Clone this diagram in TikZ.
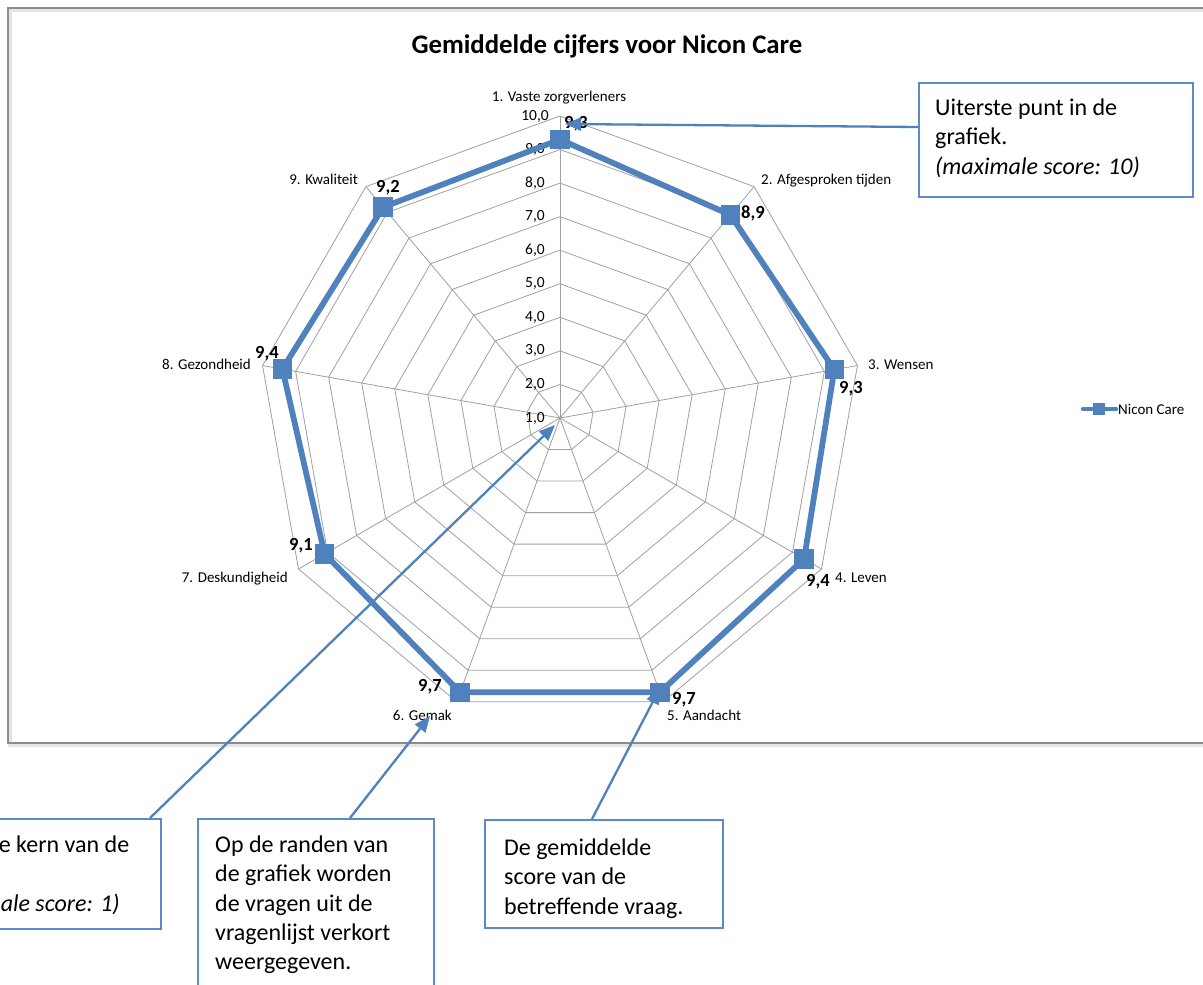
\documentclass[tikz,border=0pt]{standalone}
\usepackage{fontspec}
\setmainfont{Carlito}
\usetikzlibrary{arrows.meta,calc}
\definecolor{serie}{HTML}{4F81BD}
\definecolor{gridc}{RGB}{160,160,160}
\definecolor{boxc}{HTML}{5B8AC6}
\definecolor{framec}{RGB}{140,140,140}
\begin{document}
\begin{tikzpicture}[x=1pt,y=-1pt,
  gridl/.style={draw=gridc, line width=0.8pt, line join=miter},
  serieline/.style={draw=serie, line width=5.8pt, line join=round},
  marker/.style={fill=serie, inner sep=0pt, minimum size=19.5pt, draw=none},
  lmarker/.style={fill=serie, inner sep=0pt, minimum width=12pt, minimum height=12pt, draw=none},
  ticklab/.style={font=\fontsize{15.5}{17}\selectfont, inner sep=0pt, anchor=center},
  axlab/.style={font=\fontsize{15}{17}\selectfont, inner sep=0pt},
  datalab/.style={font=\bfseries\fontsize{18.5}{20}\selectfont, inner sep=0pt, anchor=base west},
  titlestyle/.style={font=\bfseries\fontsize{26.8}{30}\selectfont, inner sep=0pt, anchor=base},
  callbox/.style={draw=boxc, line width=1.5pt, fill=white, inner sep=0pt, anchor=north west},
  calltext/.style={font=\fontsize{24}{29.4}\selectfont, inner sep=0pt, align=left, anchor=north west},
  callarrow/.style={draw=serie, line width=2.3pt, -{Triangle[length=16pt,width=13pt]}},
  framebox/.style={draw=framec, line width=1.2pt}
]
\useasboundingbox (0,0) rectangle (1203,985);
\clip (0,0) rectangle (1203,985);

% chart frame with soft shadow
\draw[draw=black!10, line width=3.5pt] (10,10) rectangle (1216,745);
\draw[framebox] (8,8) rectangle (1215,743);

% title
\node[titlestyle] (title) at (607,53) {Gemiddelde cijfers voor Nicon Care};

% radar grid
\coordinate (O) at (560,418);
\foreach \k in {2,...,10}{
  \pgfmathsetmacro{\r}{(\k-1)*302/9}
  \draw[gridl] ({560+\r*cos(90)},{418-\r*sin(90)})
    \foreach \i in {1,...,8}{ -- ({560+\r*cos(90-40*\i)},{418-\r*sin(90-40*\i)}) } -- cycle;
}
\foreach \i in {0,...,8}{
  \coordinate (s\i) at ({560+302*cos(90-40*\i)},{418-302*sin(90-40*\i)});
  \draw[gridl] (O) -- (s\i);
}

% tick labels
\foreach \k in {1,...,10}{
  \node[ticklab] (t\k) at (535,{418-(\k-1)*302/9}) {\k,0};
}

% axis labels
\node[axlab, anchor=base] (l1) at (559,101) {1. Vaste zorgverleners};
\node[axlab, anchor=base west] (l2) at (761,184) {2. Afgesproken tijden};
\node[axlab, anchor=base west] (l3) at (868,369) {3. Wensen};
\node[axlab, anchor=base west] (l4) at (835,582) {4. Leven};
\node[axlab, anchor=base west] (l5) at (667,720) {5. Aandacht};
\node[axlab, anchor=base east] (l6) at (452,720) {6. Gemak};
\node[axlab, anchor=base east] (l7) at (288,582) {7. Deskundigheid};
\node[axlab, anchor=base east] (l8) at (251,369) {8. Gezondheid};
\node[axlab, anchor=base east] (l9) at (358,184) {9. Kwaliteit};

% series
\foreach \v [count=\i from 0] in {9.3,8.9,9.3,9.4,9.7,9.7,9.1,9.4,9.2}{
  \coordinate (p\i) at ({560+(\v-1)*302/9*cos(90-40*\i)},{418-(\v-1)*302/9*sin(90-40*\i)});
}
\draw[serieline] (p0) -- (p1) -- (p2) -- (p3) -- (p4) -- (p5) -- (p6) -- (p7) -- (p8) -- cycle;
\foreach \i in {0,...,8}{
  \node[marker] (m\i) at (p\i) {};
}

% data labels
\node[datalab] (d1) at (564,128) {9,3};
\node[datalab] (d2) at (741,218) {8,9};
\node[datalab] (d3) at (839,393) {9,3};
\node[datalab] (d4) at (806,586) {9,4};
\node[datalab] (d5) at (672,704) {9,7};
\node[datalab] (d6) at (418,691) {9,7};
\node[datalab] (d7) at (289,550) {9,1};
\node[datalab] (d8) at (255,358) {9,4};
\node[datalab] (d9) at (376,192) {9,2};

% legend
\coordinate (lga) at (1083,409);
\coordinate (lgb) at (1116,409);
\draw[draw=serie, line width=4.5pt, line cap=round] (lga) -- (lgb);
\node[lmarker] (lgm) at (1099,409) {};
\node[axlab, anchor=base west] (lgt) at (1118,414) {Nicon Care};

% callout boxes
\node[callbox, minimum width=274pt, minimum height=114pt] (b1) at (918,82) {};
\node[calltext] (c1) at ([xshift=17pt,yshift=-13pt]b1.north west)
  {\rule{0pt}{20pt}Uiterste punt in de\\grafiek.\\\textit{(maximale score: 10)}};

\node[callbox, minimum width=245pt, minimum height=110pt] (b0) at (-85,818) {};
\node[calltext] (c0) at ([xshift=17pt,yshift=-14pt]b0.north west)
  {\rule{0pt}{20pt}Dit is de kern van de\\grafiek\\\textit{(minimale score: 1)}};

\node[callbox, minimum width=236pt, minimum height=180pt] (b2) at (197,818) {};
\node[calltext] (c2) at ([xshift=18pt,yshift=-14pt]b2.north west)
  {\rule{0pt}{20pt}Op de randen van\\de grafiek worden\\de vragen uit de\\vragenlijst verkort\\weergegeven.};

\node[callbox, minimum width=238pt, minimum height=108pt] (b3) at (484,819) {};
\node[calltext] (c3) at ([xshift=20pt,yshift=-16pt]b3.north west)
  {\rule{0pt}{20pt}De gemiddelde\\score van de\\betreffende vraag.};

% callout arrows
\coordinate (a1s) at (918,127);
\coordinate (a1e) at (565,124);
\draw[callarrow] (a1s) -- (a1e);
\coordinate (a0s) at (150,818);
\coordinate (a0e) at (555,425);
\draw[callarrow] (a0s) -- (a0e);
\coordinate (a2s) at (350,818);
\coordinate (a2e) at (430,716);
\draw[callarrow] (a2s) -- (a2e);
\coordinate (a3s) at (592,819);
\coordinate (a3e) at (660,688);
\draw[callarrow] (a3s) -- (a3e);
\end{tikzpicture}
\end{document}
